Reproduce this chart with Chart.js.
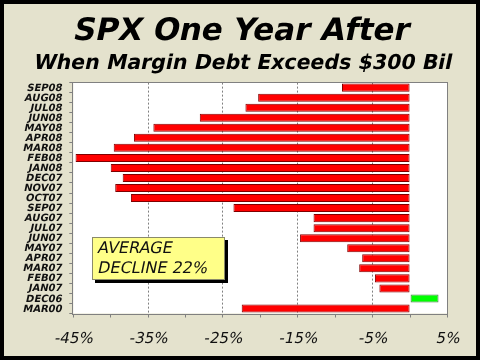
<!DOCTYPE html>
<html><head><meta charset="utf-8">
<script src="https://cdn.jsdelivr.net/npm/chart.js@4"></script>
<style>html,body{margin:0;padding:0;background:#e4e2cd}canvas{display:block}</style>
</head><body>
<canvas id="c" width="480" height="360"></canvas>
<script>
const categories = ['SEP08','AUG08','JUL08','JUN08','MAY08','APR08','MAR08','FEB08','JAN08','DEC07','NOV07','OCT07','SEP07','AUG07','JUL07','JUN07','MAY07','APR07','MAR07','FEB07','JAN07','DEC06','MAR00'];
const changes = [-9.1,-20.3,-22.0,-28.1,-34.3,-36.9,-39.6,-44.7,-40.0,-38.4,-39.4,-37.3,-23.6,-12.9,-12.9,-14.7,-8.4,-6.4,-6.8,-4.7,-4.1,3.8,-22.5];
const labeledTicks = [-45,-35,-25,-15,-5,5];
const gridTicks = [-35,-25,-15,-5];
const titleText = 'SPX One Year After';
const subtitleText = 'When Margin Debt Exceeds $300 Bil';
const noteLines = ['AVERAGE','DECLINE 22%'];

const BG = '#e4e2cd';
const SKEW = -0.21;
function slantText(ctx, text, x, y, font, align, baseline, color) {
  ctx.save();
  ctx.font = font;
  ctx.textAlign = align;
  ctx.textBaseline = baseline;
  ctx.fillStyle = color || '#000';
  ctx.translate(x, y);
  ctx.transform(1, 0, SKEW, 1, 0, 0);
  ctx.fillText(text, 0, 0);
  ctx.restore();
}

const framePlugin = {
  id: 'frame',
  beforeDraw(chart) {
    const {ctx, chartArea: a, width, height} = chart;
    ctx.save();
    ctx.fillStyle = BG;
    ctx.fillRect(0, 0, width, height);
    ctx.fillStyle = '#ffffff';
    ctx.fillRect(a.left, a.top, a.right - a.left, a.bottom - a.top);
    ctx.restore();
    slantText(ctx, titleText, 240, 39.5, 'bold 31px "DejaVu Sans"', 'center', 'alphabetic', '#000');
    slantText(ctx, subtitleText, 242, 68.5, 'bold 20.5px "DejaVu Sans"', 'center', 'alphabetic', '#000');
  },
  afterDatasetsDraw(chart) {
    const {ctx, chartArea: a, scales} = chart;
    ctx.save();
    ctx.strokeStyle = '#808080';
    ctx.lineWidth = 1;
    ctx.strokeRect(Math.round(a.left) - 0.5, Math.round(a.top) - 0.5, Math.round(a.right - a.left) + 1, Math.round(a.bottom - a.top) + 1);
    ctx.restore();
    // category labels
    const ys = scales.y;
    categories.forEach((c, i) => {
      slantText(ctx, c, a.left - 11, ys.getPixelForValue(i) + 0.5, 'bold 10px "DejaVu Sans"', 'right', 'middle', '#111');
    });
    // value-axis labels
    const xs = scales.x;
    labeledTicks.forEach(v => {
      slantText(ctx, v + '%', xs.getPixelForValue(v), a.bottom + 29, '15px "DejaVu Sans"', 'center', 'alphabetic', '#111');
    });
  },
  afterDraw(chart) {
    const {ctx, width, height} = chart;
    ctx.save();
    const bx = 92, by = 237, bw = 133, bh = 43;
    ctx.fillStyle = '#000';
    ctx.fillRect(bx + 3, by + 3, bw, bh);
    ctx.fillStyle = '#ffff88';
    ctx.fillRect(bx, by, bw, bh);
    ctx.strokeStyle = '#8a8a6a';
    ctx.lineWidth = 1;
    ctx.strokeRect(bx + 0.5, by + 0.5, bw - 1, bh - 1);
    ctx.restore();
    slantText(ctx, noteLines[0], 97, 253, '16px "DejaVu Sans"', 'left', 'alphabetic', '#111');
    slantText(ctx, noteLines[1], 97, 273, '16px "DejaVu Sans"', 'left', 'alphabetic', '#111');
    ctx.save();
    ctx.strokeStyle = '#000';
    ctx.lineWidth = 4;
    ctx.strokeRect(2, 2, width - 4, height - 4);
    ctx.restore();
  }
};

new Chart(document.getElementById('c'), {
  type: 'bar',
  data: {
    labels: categories,
    datasets: [{
      data: changes,
      backgroundColor: changes.map(v => v >= 0 ? '#00ff00' : '#ff0000'),
      borderColor: changes.map(v => v >= 0 ? '#4a7a4a' : '#800000'),
      borderWidth: 1,
      borderSkipped: false,
      barPercentage: 0.8,
      categoryPercentage: 1.0
    }]
  },
  options: {
    indexAxis: 'y',
    responsive: false,
    animation: false,
    devicePixelRatio: 1,
    layout: {padding: {top: 82.6, left: 8, right: 32.5, bottom: 0}},
    plugins: {
      legend: {display: false},
      tooltip: {enabled: false}
    },
    scales: {
      x: {
        type: 'linear', min: -45, max: 5,
        afterFit(s) { s.height = 46.5; },
        ticks: {
          display: false, stepSize: 5, autoSkip: false, maxRotation: 0
        },
        grid: {
          color: c => (c.tick && gridTicks.includes(c.tick.value)) ? '#808080' : 'rgba(0,0,0,0)',
          tickColor: '#808080', tickLength: 4, lineWidth: 1, drawTicks: true
        },
        border: {display: false, dash: [2, 2]}
      },
      y: {
        afterFit(s) { s.width = 65.3; },
        ticks: {display: false, autoSkip: false},
        grid: {drawOnChartArea: false, tickColor: '#808080', tickLength: 4, drawTicks: true},
        border: {display: false}
      }
    }
  },
  plugins: [framePlugin]
});
</script>
</body></html>
